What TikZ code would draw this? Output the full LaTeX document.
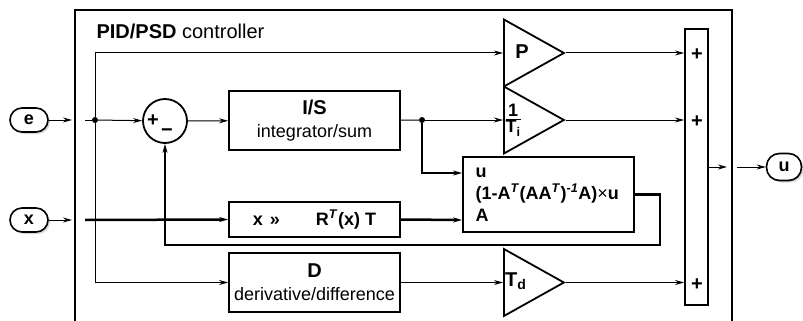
\documentclass[tikz,border=0pt]{standalone}
\usepackage{fontspec}
\setmainfont{Liberation Sans}
\usetikzlibrary{shapes.geometric,arrows.meta,shadows}

\begin{document}
\begin{tikzpicture}[
    x=1pt, y=-1pt,
    block/.style={draw, line width=1.8pt, minimum width=171pt, align=center, inner sep=2pt, font=\fontsize{18}{23}\selectfont},
    gain/.style={draw, line width=1.8pt, isosceles triangle, isosceles triangle stretches, shape border rotate=0, minimum width=67pt, minimum height=60pt, inner sep=0pt, anchor=west},
    port/.style={draw, line width=1.6pt, rounded corners=12pt, minimum width=38pt, minimum height=24pt, fill=white, font=\fontsize{18}{20}\selectfont\bfseries, drop shadow={shadow xshift=2pt, shadow yshift=-2pt, fill=gray!60}},
    sign/.style={font=\fontsize{20}{20}\selectfont\bfseries, inner sep=0pt},
    arrow/.style={-{Stealth[length=9pt,width=5pt]}, line width=1pt},
    thickarrow/.style={-{Stealth[length=9pt,width=5pt]}, line width=2.5pt},
    dot/.style={circle, fill, inner sep=0pt, minimum size=6pt},
]
\useasboundingbox (0,0) rectangle (803,321);

% controller frame, open at the bottom
\draw[line width=2pt] (75,321) -- (75,10) -- (732,10) -- (732,321);
\node[anchor=west, font=\fontsize{20}{24}\selectfont] (title) at (93,31) {\textbf{PID/PSD} controller};

% signals in and out
\node[port] (e) at (29,120) {e};
\node[port] (x) at (29,220) {x};
\node[port, minimum width=35pt, minimum height=27pt, rounded corners=13pt] (u) at (784,167) {u};
\coordinate (ein) at (72,120);
\coordinate (eint) at (85,120);
\coordinate (xin) at (72,220);
\coordinate (xint) at (85,220);
\coordinate (uout) at (727,167);
\coordinate (uext) at (737,167);
\coordinate (fb) at (660,245);

% blocks
\node[dot] (je) at (95,120) {};
\node[draw, circle, line width=1.8pt, minimum size=44pt, inner sep=0pt] (sum) at (165,121) {};
\node[sign] (sumplus) at (153,121) {+};
\node[sign] (summinus) at (167,133) {−};
\node[block, minimum height=59pt] (integ) at (314.5,120.5)
    {\fontsize{20}{23}\selectfont\bfseries I/S\\\fontsize{18}{23}\selectfont\mdseries integrator/sum};
\node[dot] (ji) at (422,120) {};
\node[block, minimum height=35pt, font=\fontsize{18}{20}\selectfont\bfseries] (xmap) at (314.5,219.5)
    {x\hspace{7pt}»\hspace{36pt}R\textsuperscript{\textit{T}}(x) T};
\node[block, minimum height=59pt] (deriv) at (314.5,282.5)
    {\fontsize{20}{23}\selectfont\bfseries D\\\fontsize{18}{23}\selectfont\mdseries derivative/difference};
\node[block, minimum height=75pt, align=left, text width=146pt, font=\fontsize{18}{22}\selectfont\bfseries] (proj) at (548.5,194.5)
    {u\\(1-A\textsuperscript{\textit{T}}(AA\textsuperscript{\textit{T}})\textsuperscript{\textit{-1}}A)\textmd{×}u\\A};

% gains
\node[gain] (P) at (503,53) {};
\node[gain] (Ti) at (503,120) {};
\node[gain] (Td) at (503,282.5) {};
\node[font=\fontsize{20}{22}\selectfont\bfseries] (Plabel) at (522,52) {P};
\node[font=\fontsize{18}{18}\selectfont\bfseries, inner sep=0pt] (Tilabel) at (513,121)
    {\setlength{\arrayrulewidth}{1.6pt}\begin{tabular}{@{}c@{}}1\\[-3pt]\hline T\textsubscript{i}\end{tabular}};
\node[font=\fontsize{20}{22}\selectfont\bfseries, anchor=west, inner sep=0pt] (Tdlabel) at (505,281) {T\textsubscript{d}};

% summing bar
\node[draw, line width=1.8pt, minimum width=23pt, minimum height=276pt, inner sep=0pt] (sigma) at (696.5,167) {};
\node[sign] (plusP) at (697,55) {+};
\node[sign] (plusI) at (697,122) {+};
\node[sign] (plusD) at (697,285) {+};

% connectors
\draw[arrow] (e) -- (ein);
\draw[line width=1pt] (eint) -- (je);
\draw[arrow] (je) -- (sum);
\draw[arrow] (je) |- (P.west);
\draw[arrow] (je) |- (deriv.west);
\draw[arrow] (sum) -- (integ);
\draw[line width=1pt] (integ) -- (ji);
\draw[arrow] (ji) -- (Ti.west);
\draw[thickarrow] (ji) |- ([yshift=21.5pt]proj.west);
\draw[arrow] (x) -- (xin);
\draw[thickarrow] (xint) -- (xmap.west);
\draw[thickarrow] (xmap.east) -- ([yshift=-25.5pt]proj.west);
\draw[thickarrow] (proj.east) -| (fb) -| (sum.south);
\draw[arrow] (deriv) -- (Td.west);
\draw[arrow] (P.apex) -- (P.apex -| sigma.west);
\draw[arrow] (Ti.apex) -- (Ti.apex -| sigma.west);
\draw[arrow] (Td.apex) -- (Td.apex -| sigma.west);
\draw[arrow] (sigma.east) -- (uout);
\draw[arrow] (uext) -- (u);
\end{tikzpicture}
\end{document}
